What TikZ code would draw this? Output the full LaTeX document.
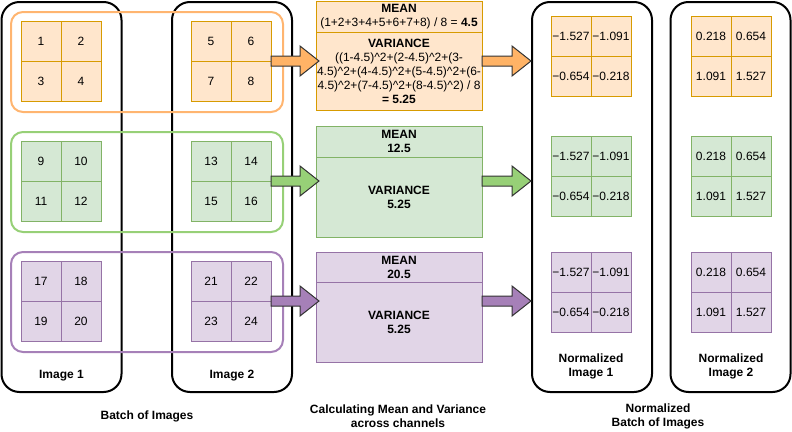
\documentclass[tikz,border=0pt]{standalone}
\usepackage{fontspec}
\setmainfont{Liberation Sans}
\usetikzlibrary{positioning, calc}
\definecolor{ofill}{HTML}{FFE6CC}
\definecolor{oline}{HTML}{D79B00}
\definecolor{ogroup}{HTML}{FFB570}
\definecolor{oarrow}{HTML}{FFB366}
\definecolor{gfill}{HTML}{D5E8D4}
\definecolor{gline}{HTML}{82B366}
\definecolor{ggroup}{HTML}{97D077}
\definecolor{garrow}{HTML}{97D077}
\definecolor{pfill}{HTML}{E1D5E7}
\definecolor{pline}{HTML}{9673A6}
\definecolor{pgroup}{HTML}{A680B8}
\definecolor{parrow}{HTML}{A680B8}
\newcommand{\crt}{\textasciicircum}

\begin{document}
\begin{tikzpicture}[x=1pt, y=-1pt,
  every node/.style={font=\fontsize{12}{14}\selectfont, inner sep=0pt, outer sep=0pt},
  imgbox/.style={draw=black, line width=2pt, rounded corners=18pt, minimum width=120pt, minimum height=390pt},
  group/.style={line width=2pt, rounded corners=12pt, minimum width=272pt, minimum height=100pt},
  cell/.style={draw, minimum size=40pt},
  stat/.style={draw, minimum width=166pt, align=center},
  barrow/.style={draw=black!80, line width=1pt},
  lbl/.style={font=\fontsize{12}{14}\selectfont\bfseries, align=center}
]
\useasboundingbox (0,0) rectangle (792,431);

% Batch of images and normalized images
\node[imgbox] (img1) at (61.5,197) {};
\node[imgbox] (img2) at (232,197) {};
\node[imgbox] (n1) at (592,197) {};
\node[imgbox] (n2) at (730.5,197) {};

% Channel groups
\foreach \rw/\yy in {o/62, g/182, p/302}
  \node[group, draw=\rw group] (\rw grp) at (147,\yy) {};

% Input grids
\foreach \rw/\rk/\yy in {o/0/61, g/1/181, p/2/301}{
  \foreach \im/\xx in {1/61, 2/231}{
    \node[minimum size=80pt] (\rw\im) at (\xx,\yy) {};
    \foreach \cx/\cy/\cn in {-1/-1/1, 1/-1/2, -1/1/3, 1/1/4}{
      \pgfmathtruncatemacro{\num}{8*\rk+4*(\im-1)+\cn}
      \node[cell, fill=\rw fill, draw=\rw line] (\rw\im-\cn) at ($(\rw\im)+(20*\cx,20*\cy)$) {\num};
    }
  }
}

% Normalized grids
\foreach \rw/\yy in {o/56, g/176, p/292}{
  \node[minimum size=80pt] (\rw n1) at (591,\yy) {};
  \node[minimum size=80pt] (\rw n2) at (731,\yy) {};
  \foreach \cx/\cy/\cn/\va/\vb in {-1/-1/1/−1.527/0.218, 1/-1/2/−1.091/0.654, -1/1/3/−0.654/1.091, 1/1/4/−0.218/1.527}{
    \node[cell, fill=\rw fill, draw=\rw line] (\rw n1-\cn) at ($(\rw n1)+(20*\cx,20*\cy)$) {\va};
    \node[cell, fill=\rw fill, draw=\rw line] (\rw n2-\cn) at ($(\rw n2)+(20*\cx,20*\cy)$) {\vb};
  }
}

% Mean and variance
\node[stat, fill=ofill, draw=oline, minimum height=31pt] (om) at (399,16.5)
  {\textbf{MEAN}\\(1+2+3+4+5+6+7+8) / 8 = \textbf{4.5}};
\node[stat, fill=ofill, draw=oline, minimum height=78pt, below=0pt of om] (ov)
  {\textbf{VARIANCE}\\((1-4.5)\crt2+(2-4.5)\crt2+(3-\\4.5)\crt2+(4-4.5)\crt2+(5-4.5)\crt2+(6-\\4.5)\crt2+(7-4.5)\crt2+(8-4.5)\crt2) / 8\\\textbf{= 5.25}};
\node[stat, lbl, fill=gfill, draw=gline, minimum height=31pt] (gm) at (399,141.5) {MEAN\\12.5};
\node[stat, lbl, fill=gfill, draw=gline, minimum height=80pt, below=0pt of gm] (gv) {VARIANCE\\5.25};
\node[stat, lbl, fill=pfill, draw=pline, minimum height=30pt] (pm) at (399,267) {MEAN\\20.5};
\node[stat, lbl, fill=pfill, draw=pline, minimum height=80pt, below=0pt of pm] (pv) {VARIANCE\\5.25};

% Block arrows
\foreach \rw in {o,g,p}{
  \draw[barrow, fill=\rw arrow] (\rw2.east) ++(0,-5) -- ++(29,0) -- ++(0,-10)
    -- ($(\rw2.east -| \rw m.west)+(3,0)$) -- ($(\rw2.east)+(29,15)$) -- ++(0,-10)
    -- ($(\rw2.east)+(0,5)$) -- cycle;
  \draw[barrow, fill=\rw arrow] (\rw m.east |- \rw2.east) ++(0,-5) -- ++(30,0) -- ++(0,-10)
    -- ($(\rw2.east -| n1.west)+(-1,0)$) -- ($(\rw m.east |- \rw2.east)+(30,15)$) -- ++(0,-10)
    -- ($(\rw m.east |- \rw2.east)+(0,5)$) -- cycle;
}

% Labels
\node[lbl] (img1lbl) at (61.5,376) {Image 1};
\node[lbl] (img2lbl) at (232,376) {Image 2};
\node[lbl] (n1lbl) at (591,366.5) {Normalized\\Image 1};
\node[lbl] (n2lbl) at (731,366.5) {Normalized\\Image 2};
\node[lbl] (batchlbl) at (147,416) {Batch of Images};
\node[lbl] (statlbl) at (398,416) {Calculating Mean and Variance\\across channels};
\node[lbl] (normlbl) at (658,416) {Normalized\\Batch of Images};
\end{tikzpicture}
\end{document}
